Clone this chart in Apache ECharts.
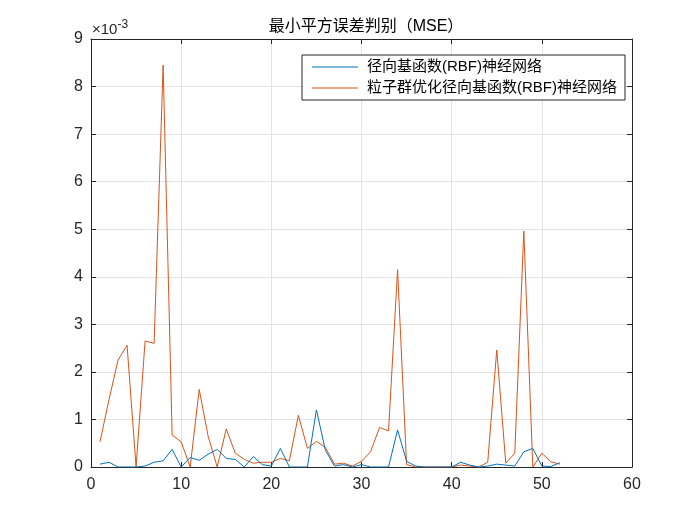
<!DOCTYPE html>
<html><head><meta charset="utf-8">
<script src="https://cdn.jsdelivr.net/npm/echarts@6/dist/echarts.min.js"></script>
<style>html,body{margin:0;padding:0;background:#fff}#c{width:700px;height:525px}</style>
</head><body><div id="c"></div>
<script>
// values in units of 1e-3
const xValues = [1,2,3,4,5,6,7,8,9,10,11,12,13,14,15,16,17,18,19,20,21,22,23,24,25,26,27,28,29,30,31,32,33,34,35,36,37,38,39,40,41,42,43,44,45,46,47,48,49,50,51,52];
const rbf = [0.06,0.10,0,0,0,0.02,0.10,0.13,0.37,0,0.20,0.14,0.27,0.37,0.18,0.16,0,0.22,0.05,0.02,0.39,0,0,0,1.20,0.35,0.02,0.05,0,0.05,0,0,0,0.78,0.12,0.02,0,0,0,0,0.10,0.04,0,0.02,0.06,0.04,0.02,0.32,0.39,0.02,0.01,0.09];
const psoRbf = [0.53,1.42,2.25,2.56,0,2.65,2.60,8.45,0.67,0.53,0,1.63,0.64,0,0.80,0.29,0.16,0.08,0.10,0.10,0.18,0.13,1.09,0.39,0.54,0.41,0.06,0.08,0.02,0.12,0.32,0.83,0.76,4.15,0.05,0,0,0,0,0,0.04,0.02,0,0.10,2.46,0.08,0.29,4.96,0,0.29,0.11,0.06];
const seriesNames = ['径向基函数(RBF)神经网络','粒子群优化径向基函数(RBF)神经网络'];
const titleText = '最小平方误差判别（MSE）';
const xTicks = {min:0,max:60,interval:10};
const yTicks = {min:0,max:9,interval:1};

const FONT = "'Liberation Sans','Noto Sans CJK SC',sans-serif";
const axisCol = '#262626';
const gridCol = '#e3e3e3';
const chart = echarts.init(document.getElementById('c'));
const pair = arr => xValues.map((x,i)=>[x,arr[i]]);
const G = {left:91,right:68,top:39,bottom:58};
function xa(pos,showLabel){return {type:'value',position:pos,min:xTicks.min,max:xTicks.max,interval:xTicks.interval,
  axisLine:{show:true,onZero:false,lineStyle:{color:axisCol,width:1}},
  axisTick:{show:true,inside:true,length:5,lineStyle:{color:axisCol}},
  axisLabel:{show:showLabel,color:axisCol,fontFamily:FONT,fontSize:16,margin:10},
  splitLine:{show:showLabel,lineStyle:{color:gridCol,width:1}}};}
function ya(pos,showLabel){return {type:'value',position:pos,min:yTicks.min,max:yTicks.max,interval:yTicks.interval,
  axisLine:{show:true,onZero:false,lineStyle:{color:axisCol,width:1}},
  axisTick:{show:true,inside:true,length:5,lineStyle:{color:axisCol}},
  axisLabel:{show:showLabel,color:axisCol,fontFamily:FONT,fontSize:16,margin:8},
  splitLine:{show:showLabel,lineStyle:{color:gridCol,width:1}}};}
chart.setOption({
  animation:false,
  backgroundColor:'#fff',
  title:{text:titleText,left:361,textAlign:'center',top:14,textStyle:{fontFamily:FONT,fontSize:16,fontWeight:'normal',color:'#000'}},
  grid:G,
  xAxis:[xa('bottom',true),xa('top',false)],
  yAxis:[ya('left',true),ya('right',false)],
  legend:{orient:'vertical',left:302,top:55,backgroundColor:'#fff',borderColor:axisCol,borderWidth:1,borderRadius:0,
    padding:[4,8,4,10],itemGap:5,itemWidth:46,itemHeight:1,icon:'rect',
    textStyle:{fontFamily:FONT,fontSize:15,lineHeight:16,color:'#000',padding:[0,0,0,4]},
    data:seriesNames},
  graphic:[{type:'text',left:92,top:19,style:{text:'×10{s|-3}',fontFamily:FONT,fontSize:15,fill:axisCol,
    rich:{s:{fontSize:12,verticalAlign:'top',padding:[0,0,9,0],fontFamily:FONT,fill:axisCol}}}}],
  series:[
    {name:seriesNames[0],type:'line',data:pair(rbf),symbol:'none',showSymbol:false,lineStyle:{color:'#0072BD',width:1},itemStyle:{color:'#0072BD'},z:3},
    {name:seriesNames[1],type:'line',data:pair(psoRbf),symbol:'none',showSymbol:false,lineStyle:{color:'#D95319',width:1},itemStyle:{color:'#D95319'},z:2}
  ]
});
</script></body></html>
